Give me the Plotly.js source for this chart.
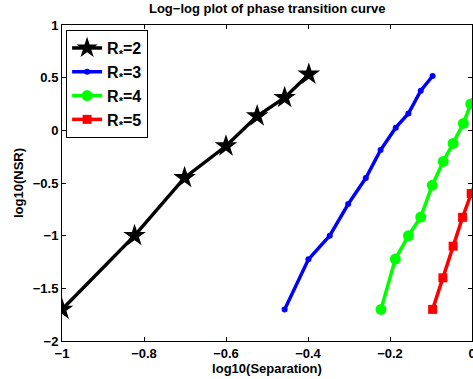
<!DOCTYPE html>
<html>
<head>
<meta charset="utf-8">
<script src="https://cdn.plot.ly/plotly-3.0.1.min.js"></script>
<style>html,body{margin:0;padding:0;background:#fff;overflow:hidden;}#chart{width:473px;height:379px;}</style>
</head>
<body>
<div id="chart"></div>
<script>
// R*=2
const x2 = [-1.0, -0.823, -0.701, -0.600, -0.524, -0.457, -0.398];
const y2 = [-1.70, -1.00, -0.45, -0.149, 0.136, 0.31, 0.532];
// R*=3
const x3 = [-0.457, -0.399, -0.347, -0.302, -0.259, -0.223, -0.186, -0.155, -0.125, -0.096];
const y3 = [-1.70, -1.225, -1.00, -0.70, -0.453, -0.187, 0.025, 0.16, 0.376, 0.516];
// R*=4
const x4 = [-0.222, -0.187, -0.155, -0.125, -0.097, -0.070, -0.046, -0.021, -0.003, 0.02];
const y4 = [-1.70, -1.222, -1.00, -0.823, -0.522, -0.295, -0.124, 0.066, 0.25, 0.45];
// R*=5
const x5 = [-0.096, -0.071, -0.046, -0.023, -0.002, 0.02];
const y5 = [-1.70, -1.40, -1.10, -0.826, -0.60, -0.40];

const names = ['R<sub>*</sub>=2', 'R<sub>*</sub>=3', 'R<sub>*</sub>=4', 'R<sub>*</sub>=5'];
const xTicks = [-1, -0.8, -0.6, -0.4, -0.2, 0];
const xTickText = ['\u22121', '\u22120.8', '\u22120.6', '\u22120.4', '\u22120.2', '0'];
const yTicks = [-2, -1.5, -1, -0.5, 0, 0.5, 1];
const yTickText = ['\u22122', '\u22121.5', '\u22121', '\u22120.5', '0', '0.5', '1'];

const bold = a => a.map(s => '<b>' + s + '</b>');

const traces = [
  {x: x2, y: y2, name: names[0], mode: 'lines+markers',
   line: {color: '#000000', width: 3.5},
   marker: {symbol: 'star', size: 17, color: '#000000'}},
  {x: x3, y: y3, name: names[1], mode: 'lines+markers',
   line: {color: '#0000ff', width: 3.5},
   marker: {symbol: 'circle', size: 6, color: '#0000ff'}},
  {x: x4, y: y4, name: names[2], mode: 'lines+markers',
   line: {color: '#00ff00', width: 3.5},
   marker: {symbol: 'circle', size: 11, color: '#00ff00'}},
  {x: x5, y: y5, name: names[3], mode: 'lines+markers',
   line: {color: '#ff0000', width: 3.5},
   marker: {symbol: 'square', size: 9, color: '#ff0000'}}
];

const fam = 'Liberation Sans, Arial, sans-serif';

const layout = {
  width: 473, height: 379,
  margin: {l: 62, r: 1, t: 25, b: 38, pad: 0},
  paper_bgcolor: '#fff', plot_bgcolor: '#fff',
  font: {family: fam, color: '#000', size: 12},
  showlegend: true,
  title: {text: '<b>Log\u2212log plot of phase transition curve</b>', x: 0.565, xanchor: 'center', y: 0.978, yanchor: 'middle',
          font: {family: fam, size: 13, color: '#000'}},
  xaxis: {
    range: [-1, 0], tickvals: xTicks, ticktext: bold(xTickText),
    ticks: 'inside', ticklen: 4, tickwidth: 1, tickcolor: '#000',
    showline: true, linecolor: '#000', linewidth: 1, mirror: 'ticks',
    showgrid: false, zeroline: false, ticklabeloverflow: 'allow',
    tickfont: {family: fam, size: 13, color: '#000'},
    title: {text: '<b>log10(Separation)</b>', standoff: 4, font: {family: fam, size: 13, color: '#000'}}
  },
  yaxis: {
    range: [-2, 1], tickvals: yTicks, ticktext: bold(yTickText),
    ticks: 'inside', ticklen: 4, tickwidth: 1, tickcolor: '#000',
    showline: true, linecolor: '#000', linewidth: 1, mirror: 'ticks',
    showgrid: false, zeroline: false, ticklabeloverflow: 'allow',
    tickfont: {family: fam, size: 13, color: '#000'},
    title: {text: '<b>log10(NSR)</b>', standoff: 6, font: {family: fam, size: 13, color: '#000'}}
  },
  legend: {
    x: 0.01, y: 0.984, xanchor: 'left', yanchor: 'top',
    bgcolor: '#fff', bordercolor: '#000', borderwidth: 1,
    font: {family: fam, size: 16, color: '#000'},
    tracegroupgap: 0
  }
};

// bold legend names
traces.forEach(t => { t.name = '<b>' + t.name + '</b>'; });

Plotly.newPlot('chart', traces, layout, {displayModeBar: false, staticPlot: true});
</script>
</body>
</html>
